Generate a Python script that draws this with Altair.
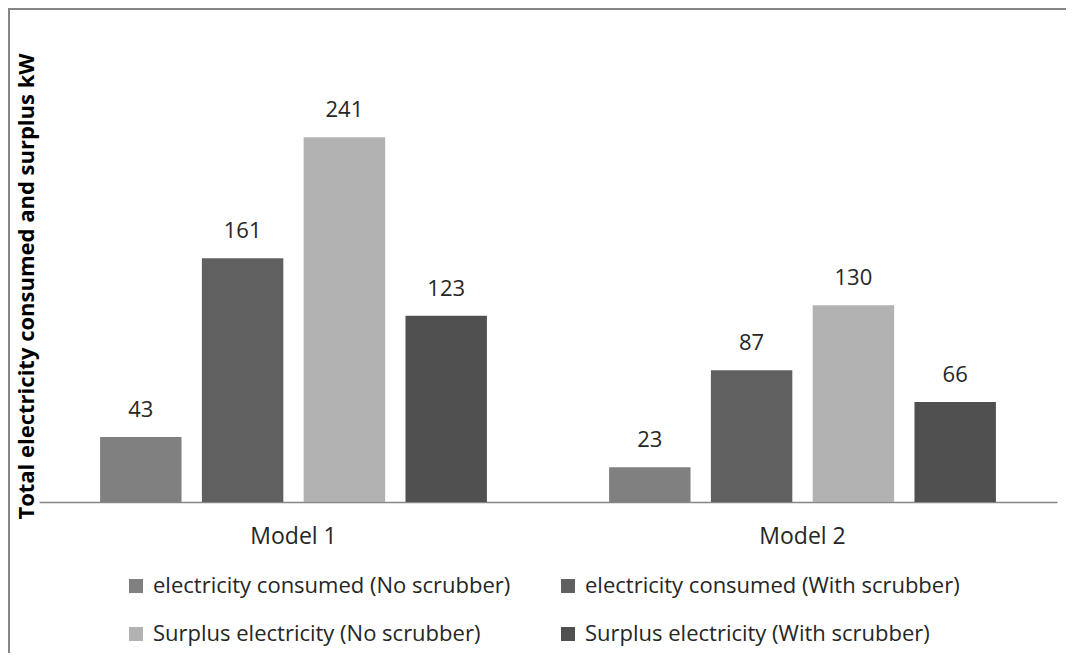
import altair as alt
import pandas as pd

models = ["Model 1", "Model 2"]
series = [
    "electricity consumed (No scrubber)",
    "electricity consumed (With scrubber)",
    "Surplus electricity (No scrubber)",
    "Surplus electricity (With scrubber)",
]
model1_values = [43, 161, 241, 123]
model2_values = [23, 87, 130, 66]
colors = ["#808080", "#606060", "#b2b2b2", "#505050"]

rows = []
for m, vals in zip(models, [model1_values, model2_values]):
    for s, v in zip(series, vals):
        rows.append({"model": m, "series": s, "value": v})
df = pd.DataFrame(rows)

FONT = "Open Sans"
TXT = "#262626"

x = alt.X(
    "model:N", sort=models,
    scale=alt.Scale(paddingInner=0, paddingOuter=0),
    axis=alt.Axis(title=None, labelAngle=0, ticks=False, domainColor="#868686",
                  domainWidth=1.5, labelFontSize=23, labelColor=TXT,
                  labelPadding=23, labelFont=FONT),
)
xo = alt.XOffset("series:N", sort=series,
                 scale=alt.Scale(paddingInner=0.2, paddingOuter=0.6))
y = alt.Y(
    "value:Q", scale=alt.Scale(domain=[0, 300]),
    axis=alt.Axis(title="Total electricity consumed and surplus kW", labels=False,
                  ticks=False, domain=False, grid=False, titleFontSize=22,
                  titleFont=FONT, titleFontWeight="bold", titleColor="black",
                  titlePadding=1, titleY=238),
)
color = alt.Color(
    "series:N", sort=series,
    scale=alt.Scale(domain=series, range=colors),
    legend=alt.Legend(title=None, orient="none", legendX=86, legendY=527,
                      columns=2, direction="horizontal", symbolType="square",
                      symbolSize=196, symbolStrokeWidth=0, labelFontSize=22,
                      labelFont=FONT, labelColor=TXT, labelLimit=600,
                      rowPadding=26, columnPadding=46, labelOffset=6),
)

base = alt.Chart(df)
bars = base.mark_bar().encode(x=x, xOffset=xo, y=y, color=color)
labels = base.mark_text(dy=-20, baseline="alphabetic", fontSize=22, font=FONT,
                        color=TXT).encode(x=x, xOffset=xo, y=y, text="value:Q")

top_df = pd.DataFrame({"edge": ["top"]})
left_df = pd.DataFrame({"side": ["left"], "n": [1]})
top_border = alt.Chart(top_df).mark_rule(color="#868686", strokeWidth=2).encode(
    x=alt.value(-31), x2=alt.value(1027), y=alt.value(-39))
left_border = alt.Chart(left_df).mark_rule(color="#868686", strokeWidth=2).encode(
    x=alt.value(-30), y=alt.value(-40), y2=alt.value(605))

chart = alt.layer(bars, labels, top_border, left_border).properties(
    width=1018, height=454,
    background="white",
    autosize=alt.AutoSizeParams(type="none"),
    padding={"left": 31, "top": 40, "right": 9, "bottom": 157},
).configure_view(stroke=None)

chart.save("out.html", embed_options={"renderer": "svg", "actions": False})
